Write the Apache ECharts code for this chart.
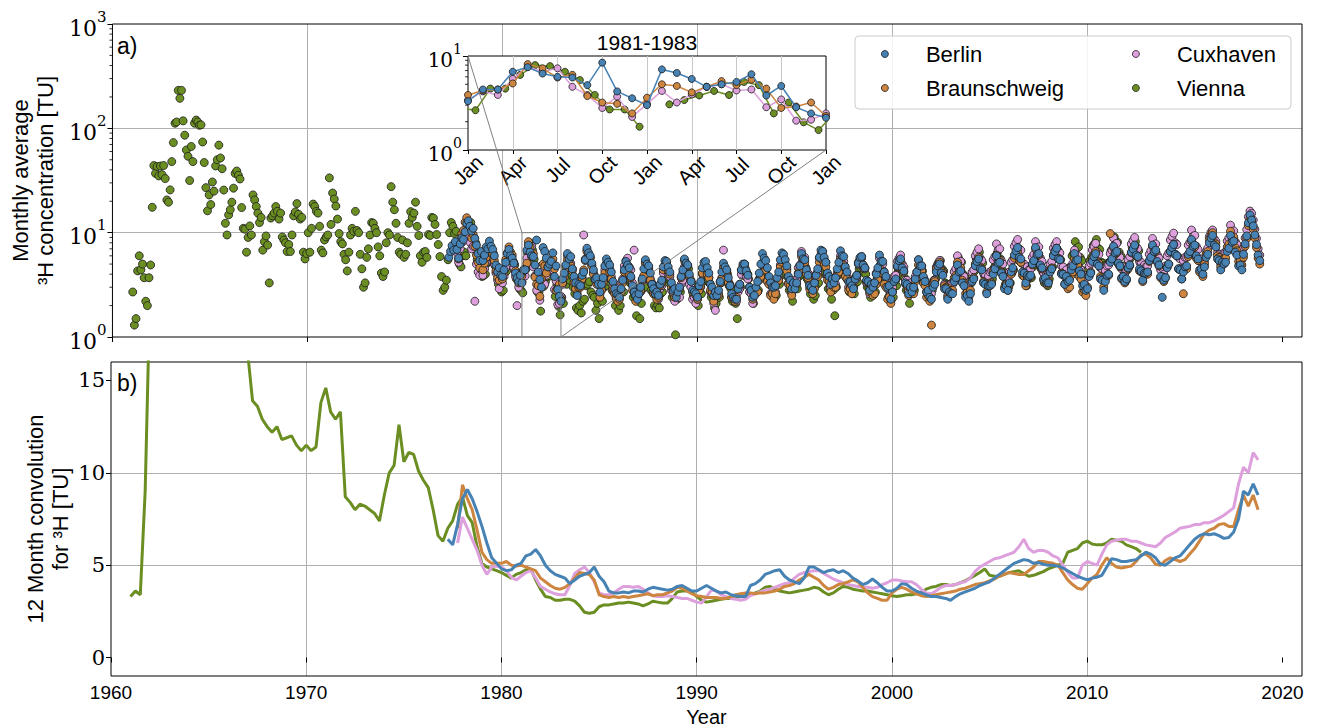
<!DOCTYPE html>
<html>
<head>
<meta charset="utf-8">
<title>Tritium in precipitation</title>
<script src="https://cdn.jsdelivr.net/npm/echarts@6.0.0/dist/echarts.min.js"></script>
<style>
  html, body { margin: 0; padding: 0; background: #fff; }
  #chart { width: 1318px; height: 728px; }
</style>
</head>
<body>
<div id="chart"></div>
<script>
// stations, legend order
const STATIONS = ['Berlin', 'Braunschweig', 'Cuxhaven', 'Vienna'];
const COLORS = { Berlin: '#4682b4', Braunschweig: '#cd853f', Cuxhaven: '#dda0dd', Vienna: '#6b8e23' };

const YEAR_TICKS = [1960, 1970, 1980, 1990, 2000, 2010, 2020];
const CONV_TICKS = [0, 5, 10, 15];
const INSET_MONTHS = ['Jan', 'Apr', 'Jul', 'Oct'];

// zoomed window shown in the inset
const INSET_FROM = 1981, INSET_TO = 1983, INSET_LOW = 1, INSET_HIGH = 10;

// monthly average 3H [TU], one row = one year (Jan..Dec)
const viennaStart = 1961;
const viennaMonthly = [
  [2.7,1.3,1.5,4.3,6.0,4.4,5.0,3.7,2.2,2.0,3.7,4.9],
  [17.5,44,37,43,35,43.5,36,44,33,20.6,19.6,25.7],
  [48,73,112,115,231,194,231,118,86,62,54,31.6],
  [67,48,112,120,115,107,108,74,47,27,16.2,23],
  [18.6,30.6,25,43.6,50,69,52,41,25.6,12.3,9.5,14.8],
  [16.6,19.6,26.7,37,39,35.5,32.7,17.4,11,10.8,6.5,9],
  [11.6,9.5,23,20.6,17.8,15.4,12.5,14,6.8,8.2,9.3,7.6],
  [3.3,13.8,14.5,15.4,17.8,16,13.5,15.4,9.1,8.5,8,6.6],
  [7.7,6.6,9.5,14.5,15.8,19,15,13.5,14,6.5,5.6,6.3],
  [10,6.5,11,18.8,17.8,16,15.4,11.5,6.8,6.4,8.5,9.1],
  [9.5,33.5,12,24,21,18,13.5,9.8,8.2,7.8,6.2,5.5],
  [4.3,6.5,9.5,11,10.3,16,10.5,10,6.2,4.5,3.0,3.3],
  [5.8,7,9.5,12.5,12.3,11,10,7.3,6,4.1,3.8,4.2],
  [8,10,9.5,27.6,19.6,16.6,12.3,9,6.5,6.2,8.5,5.8],
  [6.2,8,12.3,15.9,14,15.4,19.6,11.5,9.4,6,5.2,6.5],
  [6.6,5.8,9.6,9.4,14,13.8,12,9.6,7.7,5.9,3.8,2.8],
  [3.0,3.5,5.5,10,12.5,11.5,9.8,10.3,6.5,5.0,4.7,6.0],
  [6.5,6,9,11,12.5,11,9,8,5.5,4.2,4.5,3.8],
  [3.9,4.0,5.1,5.3,7.2,6.0,6.3,4.8,4.4,3.2,3.4,2.7],
  [2.8,4.1,4.3,6.2,6.0,6.1,5.1,4.9,3.6,3.7,2.9,2.8],
  [2.65,4.5,4.5,6.3,8.0,7.8,6.8,5.55,3.85,2.7,2.7,1.77],
  [null,3.06,3.4,3.8,4.25,3.85,5.3,4.9,2.45,3.2,1.97,1.63],
  [2.4,2.1,3.3,3.2,4.1,3.5,3.9,3.0,2.6,1.9,1.8,2.0],
  [1.7,2.2,2.3,3.1,3.2,3.4,2.7,2.5,2.4,1.8,2.1,1.5],
  [2.3,2.2,3.0,3.1,4.2,3.4,3.6,2.8,2.7,2.0,2.3,1.8],
  [2.0,2.7,2.7,3.8,3.9,4.3,3.3,3.3,2.4,2.5,1.6,2.2],
  [1.5,2.1,2.9,3.0,4.0,3.6,3.7,2.8,2.7,2.0,1.9,2.0],
  [1.9,2.6,2.7,3.6,3.8,4.1,3.3,3.4,2.4,2.5,1.05,2.3],
  [2.8,2.7,3.6,3.9,5.1,4.4,4.5,3.5,3.3,2.5,2.6,2.3],
  [2.0,2.7,2.6,3.6,3.7,4.1,3.4,3.3,2.4,2.5,1.9,2.1],
  [2.5,2.4,3.3,3.4,4.5,3.8,4.0,3.1,2.9,2.2,2.4,2.1],
  [1.5,2.9,3.0,3.9,4.2,4.5,3.7,3.6,2.7,2.7,2.1,2.6],
  [2.8,2.8,3.7,3.9,5.1,4.3,4.5,3.5,3.3,2.5,2.7,2.4],
  [2.5,3.2,3.2,4.3,4.4,4.8,3.9,3.8,2.8,2.8,2.2,2.9],
  [3.0,2.9,3.8,4.0,5.2,4.4,4.7,3.6,3.4,2.6,2.8,2.3],
  [2.5,3.2,3.3,4.4,4.5,4.9,4.0,3.9,2.9,2.9,2.3,2.8],
  [1.6,3.0,3.9,4.2,5.3,4.6,4.8,3.7,3.5,2.7,2.9,2.6],
  [2.6,3.3,3.4,4.5,4.6,5.0,4.1,4.0,3.0,3.0,2.4,2.9],
  [2.8,2.7,3.6,3.8,4.9,4.2,4.3,3.4,3.2,2.4,2.6,2.3],
  [2.4,3.1,3.1,4.2,4.3,4.7,3.8,3.7,2.8,2.8,2.1,2.6],
  [2.8,2.8,3.6,3.9,4.9,4.3,4.3,3.4,3.2,2.5,2.6,2.4],
  [2.8,3.5,3.6,4.8,5.0,5.4,4.5,4.3,3.3,3.2,2.6,3.1],
  [3.3,3.3,4.3,4.5,5.8,5.1,5.2,4.0,3.8,3.0,3.1,2.8],
  [3.3,4.1,4.3,5.7,6.0,6.5,5.3,5.1,3.9,3.8,3.1,3.7],
  [3.6,3.6,4.6,4.9,6.4,5.5,5.6,4.4,4.1,3.2,3.4,3.0],
  [3.3,4.1,4.4,5.6,6.0,6.4,5.3,5.1,3.9,3.8,3.1,3.6],
  [3.7,3.7,4.7,5.0,6.4,5.6,5.8,4.5,4.2,3.3,3.4,3.1],
  [3.6,4.4,4.7,6.0,6.4,6.9,5.7,5.5,4.2,4.1,3.3,3.9],
  [4.6,4.7,6.0,6.3,8.2,7.1,7.3,5.8,5.4,4.2,4.3,3.9],
  [4.4,5.4,5.8,7.5,7.9,8.6,7.1,6.9,5.2,5.1,4.1,4.9],
  [5.1,5.2,6.7,7.0,9.1,8.0,8.1,6.5,6.0,4.7,4.8,4.5],
  [4.4,5.3,5.7,7.3,7.8,8.2,6.9,6.7,5.1,4.9,4.1,4.6]
];

const berlinStart = 1977;
const berlinMonthly = [
  [null,null,null,5.8,6.6,7.5,6.8,8.2,6.9,5.7,7.8,8.9],
  [8.6,10.2,12.3,13.0,11.5,10.4,11.0,8.8,7.6,6.3,5.4,6.6],
  [5.4,6.1,7.3,7.0,8.3,7.4,6.9,6.0,4.9,4.2,4.6,3.9],
  [3.8,4.4,5.2,6.3,6.9,6.0,5.7,5.1,4.1,3.7,3.4,3.9],
  [3.3,4.4,4.4,6.8,7.6,6.5,6.0,5.9,4.9,8.5,4.2,3.55],
  [3.0,7.2,6.6,5.7,4.7,5.0,5.3,6.4,3.8,4.8,2.85,2.45],
  [2.2,3.6,4.1,4.9,6.3,5.6,5.9,4.5,3.8,3.3,2.5,3.2],
  [3.1,3.9,4.2,5.5,7.1,6.4,6.0,5.1,4.4,3.6,3.7,3.2],
  [2.7,3.2,3.7,4.8,5.6,5.2,4.9,4.2,3.4,2.9,2.6,2.5],
  [2.4,2.9,3.5,4.4,5.3,4.9,4.6,3.8,3.1,2.7,2.5,2.3],
  [2.6,3.0,3.6,4.5,5.5,5.0,4.8,4.1,3.2,2.9,2.6,2.7],
  [2.5,3.2,3.5,4.7,5.4,5.3,4.7,4.2,3.3,2.8,2.9,2.4],
  [2.7,3.0,3.8,4.4,5.6,5.1,4.9,4.0,3.4,2.8,2.7,2.6],
  [2.4,3.1,3.4,4.6,5.2,5.3,4.6,4.1,3.2,3.0,2.5,2.7],
  [2.5,2.8,3.4,4.2,5.1,4.7,4.4,3.7,3.1,2.6,2.4,2.3],
  [2.3,2.9,3.2,4.4,5.0,5.0,4.3,3.9,3.0,2.8,2.4,2.5],
  [3.0,3.4,4.1,5.0,6.3,5.7,5.4,4.6,3.8,3.3,3.0,3.0],
  [3.1,3.7,4.2,5.5,6.4,6.2,5.5,4.8,3.8,3.5,2.9,3.3],
  [2.9,3.3,4.0,4.8,6.3,5.6,5.5,4.4,3.9,3.1,3.0,2.8],
  [3.3,3.9,4.5,5.8,6.8,6.6,5.8,5.2,4.1,3.8,3.2,3.6],
  [3.3,3.7,4.5,5.2,6.7,6.0,5.9,4.7,4.2,3.4,3.4,3.1],
  [2.9,3.6,3.9,5.1,5.8,5.9,4.9,4.6,3.5,3.4,2.8,3.2],
  [3.0,3.3,4.0,4.6,6.1,5.3,5.3,4.2,3.8,3.0,3.1,2.3],
  [2.7,3.4,3.6,4.8,5.4,5.6,4.6,4.3,3.3,3.2,2.6,3.0],
  [2.7,3.0,3.6,4.2,5.5,4.8,4.8,3.8,3.4,2.7,2.8,2.4],
  [2.3,3.0,3.2,4.2,4.8,5.0,4.1,3.9,2.9,2.9,2.3,2.7],
  [2.6,2.6,3.4,3.7,4.9,4.2,4.3,3.3,3.1,2.4,2.5,2.2],
  [2.6,3.4,3.6,4.8,5.3,5.6,4.5,4.4,3.3,3.2,2.6,3.1],
  [3.1,3.2,4.0,4.5,6.0,5.1,5.2,4.1,3.8,2.9,3.1,2.8],
  [3.3,4.2,4.6,6.1,6.7,7.2,5.8,5.6,4.2,4.1,3.3,3.9],
  [3.8,3.9,5.0,5.4,7.2,6.2,6.3,4.9,4.6,3.6,3.7,3.3],
  [3.3,4.2,4.5,6.0,6.6,7.1,5.6,5.5,4.0,4.0,3.2,3.8],
  [3.4,3.5,4.4,4.8,6.3,5.4,5.5,4.3,4.0,3.1,3.2,2.8],
  [2.9,3.8,4.1,5.3,5.9,6.3,5.0,4.8,3.6,3.5,2.8,3.4],
  [3.9,4.0,5.2,5.6,7.4,6.4,6.6,5.1,4.8,3.7,3.8,3.4],
  [3.6,4.6,4.9,6.5,7.0,7.6,6.1,5.9,4.5,4.3,3.5,4.1],
  [4.1,4.2,5.4,5.8,7.6,6.6,6.8,5.3,4.9,3.8,2.4,3.5],
  [3.7,4.6,5.0,6.6,7.2,7.7,6.2,6.0,4.5,4.4,3.6,4.2],
  [4.7,4.8,6.2,6.6,8.6,7.4,7.6,6.0,5.6,4.4,4.5,4.0],
  [4.7,5.8,6.2,8.0,8.9,9.4,7.6,7.3,5.6,5.4,4.4,5.2],
  [5.0,5.2,6.6,7.1,9.4,8.1,8.3,6.5,6.1,4.8,4.9,4.4],
  [6.2,7.8,9.3,12.4,14.8,13.2,11.6,9.5,7.7,6.1,5.4,null]
];

const braunschweigStart = 1977;
const braunschweigMonthly = [
  [null,null,null,null,null,null,null,null,7.2,5.6,8.4,9.8],
  [10.5,12.6,13.9,12.1,10.8,8.9,9.6,7.4,6.1,5.2,4.6,5.4],
  [4.4,5.1,5.8,6.6,7.5,6.9,6.2,5.4,4.3,3.7,3.5,4.0],
  [3.6,4.3,5.5,6.4,7.3,6.5,6.1,5.2,4.3,3.8,3.3,4.1],
  [3.85,4.3,4.4,5.1,8.2,7.4,5.9,6.3,3.75,3.2,3.1,2.45],
  [3.6,5.0,4.8,4.1,4.7,5.4,4.9,5.6,4.5,2.8,2.9,3.2],
  [2.3,3.3,3.7,4.6,5.5,5.2,4.8,4.3,3.3,2.9,2.6,3.0],
  [3.0,3.6,4.4,5.4,6.6,6.1,5.7,4.8,4.0,3.5,3.2,3.5],
  [2.4,2.8,3.3,4.1,4.9,4.6,4.2,3.6,2.9,2.6,2.3,2.2],
  [2.3,2.7,3.3,4.2,4.6,4.8,4.0,3.7,2.8,2.7,2.2,2.4],
  [2.6,2.8,3.5,3.9,5.1,4.4,4.5,3.5,3.2,2.6,2.6,2.3],
  [2.4,3.1,3.3,4.4,4.9,5.2,4.3,4.0,3.0,2.9,2.4,2.7],
  [2.8,2.9,3.7,4.1,5.4,4.7,4.8,3.8,3.5,2.7,2.8,2.5],
  [2.3,2.8,3.1,4.1,4.6,4.8,4.0,3.7,2.8,2.7,2.2,2.5],
  [2.5,2.5,3.3,3.6,4.7,4.1,4.2,3.3,3.1,2.4,2.5,2.2],
  [2.4,3.0,3.2,4.4,4.8,5.0,4.2,4.0,3.0,2.9,2.3,2.7],
  [2.7,2.7,3.5,3.8,5.0,4.3,4.4,3.4,3.2,2.5,2.6,2.3],
  [2.6,3.3,3.5,4.7,5.2,5.5,4.5,4.3,3.2,3.1,2.5,3.0],
  [3.2,3.2,4.1,4.4,5.9,5.0,5.2,4.0,3.7,2.9,3.0,2.6],
  [2.9,3.7,3.8,5.2,5.6,6.0,4.9,4.7,3.5,3.4,2.7,3.3],
  [3.0,3.0,3.9,4.2,5.6,4.8,4.9,3.8,3.6,2.8,2.9,2.6],
  [3.0,3.7,3.9,5.2,5.6,5.9,4.8,4.6,3.4,3.4,2.7,3.2],
  [2.5,2.6,3.2,3.6,4.6,4.1,4.1,3.2,3.0,2.3,2.4,2.1],
  [2.7,3.4,3.5,4.7,5.1,5.4,4.4,4.2,3.2,3.1,2.5,3.0],
  [2.6,2.6,3.4,3.7,4.9,4.2,4.3,3.3,3.1,2.4,2.5,2.2],
  [1.3,3.2,3.4,4.5,4.9,5.2,4.3,4.1,3.1,3.0,2.4,2.9],
  [2.8,2.8,3.7,3.9,5.2,4.5,4.6,3.5,3.3,2.6,2.7,2.4],
  [2.8,3.5,3.7,5.0,5.4,5.8,4.7,4.5,3.4,3.3,2.7,3.2],
  [3.3,3.3,4.3,4.6,6.1,5.3,5.4,4.2,3.9,3.0,3.2,2.8],
  [3.2,4.0,4.3,5.7,6.2,6.6,5.4,5.2,3.9,3.8,3.1,3.6],
  [3.8,3.8,4.9,5.3,7.0,6.0,6.1,4.8,4.5,3.5,3.6,3.2],
  [3.4,4.3,4.6,6.1,6.7,7.1,5.7,5.5,4.1,4.0,3.2,3.8],
  [2.9,3.0,3.9,4.2,5.6,4.8,4.9,3.8,3.6,2.7,2.8,2.5],
  [3.0,3.9,4.2,5.6,6.2,6.6,5.3,5.1,3.8,3.7,3.0,3.6],
  [3.9,3.9,9.8,5.5,7.2,6.2,6.4,5.0,4.7,3.6,3.8,3.3],
  [3.5,4.5,4.8,6.4,6.9,7.4,6.0,5.8,4.3,4.2,3.4,4.0],
  [4.0,4.0,5.3,5.6,7.4,6.4,6.6,5.2,4.8,3.7,3.8,3.4],
  [3.7,4.7,5.0,6.6,7.2,7.7,6.2,6.0,4.5,4.4,3.6,2.6],
  [4.5,4.5,5.9,6.3,8.3,7.1,7.3,5.7,5.4,4.2,4.3,3.8],
  [5.0,6.2,6.6,8.6,9.5,10.0,8.1,7.8,6.0,5.8,4.7,5.5],
  [5.6,5.7,7.3,7.8,10.3,8.9,9.1,7.2,6.7,5.3,5.4,4.9],
  [5.8,7.4,8.8,11.7,13.6,12.4,10.9,8.9,7.2,5.7,5.0,null]
];

const cuxhavenStart = 1977;
const cuxhavenMonthly = [
  [null,null,null,null,null,null,null,null,6.4,5.2,7.0,8.1],
  [8.3,9.6,10.4,9.2,8.1,7.0,7.4,2.2,5.0,4.2,3.9,4.4],
  [3.9,4.5,5.2,5.9,6.8,6.2,5.8,5.0,4.1,3.5,2.9,3.6],
  [3.3,3.8,4.6,5.5,6.3,5.8,5.3,4.6,3.8,2.0,3.0,3.6],
  [3.4,4.2,3.85,5.7,7.7,6.8,7.4,4.7,3.85,2.8,3.7,2.25],
  [3.1,4.25,3.2,3.9,4.7,5.0,4.3,4.4,2.85,3.45,2.05,2.1],
  [2.45,3.2,3.9,4.8,6.0,5.4,5.1,4.5,3.6,3.2,2.8,3.4],
  [3.2,3.7,9.5,5.6,6.8,6.2,5.8,4.9,4.1,3.6,3.3,3.5],
  [2.6,2.9,3.5,4.4,5.1,4.9,4.5,3.8,3.1,2.7,2.4,2.3],
  [2.7,3.3,3.6,4.8,5.4,5.7,4.7,4.4,3.3,6.8,2.6,2.9],
  [2.6,2.7,3.4,3.8,5.2,4.5,4.6,3.6,3.3,2.6,2.7,2.4],
  [2.3,2.9,3.1,4.1,4.6,4.9,4.0,3.8,2.8,2.7,2.2,2.6],
  [2.4,2.4,3.2,3.5,4.7,4.0,4.1,3.2,3.0,2.3,2.4,2.1],
  [2.3,2.8,3.0,4.0,4.5,4.7,3.9,3.7,2.7,2.6,2.1,1.8],
  [2.6,2.6,3.4,3.7,6.8,4.2,4.3,3.4,3.2,2.4,2.5,2.2],
  [2.2,2.7,2.9,4.0,4.4,4.6,3.8,3.6,2.7,2.6,2.1,2.5],
  [2.7,2.7,3.6,3.9,5.1,4.4,4.5,3.5,3.3,2.6,2.6,2.4],
  [2.7,3.4,3.6,4.9,5.4,5.7,4.7,4.5,3.3,3.2,2.6,3.1],
  [3.5,3.5,4.6,4.9,6.6,5.6,5.8,4.5,4.1,3.2,3.4,2.9],
  [3.2,4.0,4.2,5.7,6.2,6.6,5.4,5.2,3.9,3.8,3.0,3.6],
  [3.2,3.2,4.1,4.5,6.0,5.1,5.3,4.1,3.8,3.0,3.1,2.8],
  [2.9,3.5,3.7,5.0,5.4,5.7,4.6,4.5,3.3,3.3,2.6,3.1],
  [3.1,3.1,4.1,4.3,5.7,4.9,5.0,3.9,3.7,2.9,3.0,2.6],
  [3.0,3.8,3.9,5.3,5.7,6.1,5.0,4.7,3.5,3.5,2.8,3.3],
  [2.9,2.9,3.8,4.2,5.5,4.7,4.8,3.7,3.5,2.7,2.8,2.5],
  [2.6,3.3,3.5,4.7,5.1,5.4,4.4,4.2,3.2,3.1,2.5,3.0],
  [3.2,3.2,4.2,4.5,6.0,5.2,5.3,4.0,3.8,3.0,3.1,2.7],
  [3.4,4.2,4.4,6.0,6.5,7.0,5.7,5.4,4.1,4.0,3.2,3.8],
  [4.2,4.3,5.5,5.9,7.8,6.8,7.0,5.4,5.0,3.9,4.1,3.6],
  [4.2,5.2,5.5,7.4,8.0,8.6,7.0,6.8,5.1,5.0,4.0,4.7],
  [4.4,4.5,5.8,6.2,8.2,7.1,7.3,5.7,5.3,4.1,4.3,3.8],
  [4.0,5.0,5.3,7.1,7.7,8.2,6.7,6.4,4.8,4.7,3.8,4.4],
  [3.6,3.7,4.7,5.1,6.8,5.9,6.0,4.6,4.4,3.4,3.5,3.1],
  [3.9,4.8,5.1,6.8,7.4,7.9,6.5,6.2,4.6,4.5,3.7,4.3],
  [4.8,4.9,6.3,6.8,8.9,7.7,7.9,6.2,5.8,4.5,4.7,4.1],
  [4.4,5.5,5.9,7.8,8.4,9.0,7.3,7.0,5.3,5.2,4.2,4.9],
  [4.7,4.8,6.2,6.7,8.8,7.6,7.8,6.1,5.7,4.4,4.6,4.0],
  [4.8,6.0,6.4,8.5,9.2,9.9,8.0,7.7,5.8,5.6,4.6,5.4],
  [5.8,5.8,7.6,8.1,10.6,9.2,9.4,7.4,6.9,5.4,5.6,4.9],
  [5.3,6.6,7.1,9.2,10.1,10.6,8.7,8.3,6.4,6.2,5.0,5.9],
  [6.4,6.5,8.3,8.9,11.8,10.2,10.4,8.2,7.7,6.0,6.2,5.5],
  [7.1,8.9,10.7,14.2,16.1,15.3,13.2,10.8,8.8,7.0,6.1,null]
];

// 12 month convolution [TU], sampled every quarter year
const CONV_STEP = 0.25;
const viennaConvStart = 1961;
const viennaConv = [
  3.3,3.6,3.4,9.0, 20,30,35,38, 50,80,110,115, 100,90,70,55, 45,38,33,30,
  26,23,21,18, 16.5,13.9,13.6,12.9, 12.5,12.2,12.5,11.8, 11.9,12.0,11.5,11.2,
  11.5,11.2,11.4,13.8, 14.6,13.3,12.9,13.3, 8.7,8.4,8.0,8.3, 8.2,8.0,7.8,7.4,
  8.8,10.0,10.4,12.6, 10.6,11.1,11.0,10.1, 9.6,9.2,8.0,6.6, 6.3,7.0,7.4,8.3,
  8.7,7.7,7.3,6.0, 5.1,4.9,4.8,4.7, 4.6,4.45,4.3,4.5, 4.6,4.75,4.8,4.2,
  3.7,3.3,3.25,3.1, 3.1,3.15,3.15,3.05, 2.8,2.45,2.4,2.45, 2.75,2.85,2.85,2.9,
  2.95,2.95,3.0,2.95, 2.9,2.8,2.9,3.05, 3.0,2.95,2.95,3.2, 3.55,3.6,3.6,3.55,
  3.3,3.1,3.0,3.05, 3.1,3.15,3.2,3.2, 3.25,3.3,3.35,3.4, 3.5,3.6,3.8,3.85,
  3.7,3.6,3.55,3.5, 3.55,3.6,3.65,3.7, 3.8,3.75,3.55,3.4, 3.5,3.7,3.85,3.8,
  3.7,3.65,3.6,3.6, 3.55,3.5,3.45,3.4, 3.35,3.3,3.35,3.4, 3.4,3.45,3.55,3.7,
  3.8,3.85,3.95,3.95, 3.9,3.95,4.05,4.15, 4.3,4.45,4.6,4.8, 4.45,4.4,4.4,4.5,
  4.6,4.65,4.7,4.55, 4.4,4.45,4.55,4.65, 4.8,4.9,5.0,5.1, 5.7,5.8,5.9,6.2,
  6.3,6.15,6.1,6.1, 6.2,6.4,6.35,6.3, 6.1,6.0,5.9,5.7
];
const berlinConvStart = 1977.25;
const berlinConv = [
  6.4,6.1,7.2, 8.6,9.1,8.6,7.9, 7.1,6.2,5.4,5.1, 4.8,4.7,4.75,5.0,
  5.1,5.5,5.6,5.85, 5.5,5.0,4.7,4.5, 4.4,4.3,4.0,4.2, 4.4,4.5,4.6,4.9,
  4.4,4.1,3.6,3.5, 3.5,3.55,3.5,3.6, 3.6,3.55,3.7,3.8, 3.75,3.7,3.65,3.7,
  3.85,3.9,3.75,3.6, 3.6,3.75,3.9,3.75, 3.6,3.5,3.55,3.4, 3.35,3.3,3.3,3.9,
  4.0,4.2,4.5,4.6, 4.7,4.75,4.4,4.2, 4.1,4.0,4.3,4.9, 4.9,4.75,4.6,4.7,
  4.75,4.6,4.7,4.55, 4.3,4.15,3.95,4.05, 4.25,4.05,3.8,3.6, 3.6,3.75,4.0,3.95,
  3.75,3.6,3.5,3.4, 3.3,3.3,3.25,3.2, 3.1,3.3,3.45,3.55, 3.65,3.75,3.9,4.0,
  4.1,4.3,4.5,4.7, 4.9,5.1,5.2,5.3, 5.25,5.1,5.15,5.05, 5.0,5.0,4.95,4.85,
  4.7,4.55,4.4,4.3, 4.2,4.3,4.35,4.45, 4.9,5.35,5.3,5.2, 5.2,5.25,5.3,5.5,
  5.7,5.6,5.4,5.05, 5.0,5.2,5.4,5.5, 5.8,6.1,6.4,6.6, 6.7,6.65,6.7,6.6,
  6.45,6.5,6.8,7.5, 9.0,8.8,9.4,8.8
];
const braunschweigConvStart = 1977.75;
const braunschweigConv = [
  7.0, 9.35,8.6,8.0,6.9, 5.7,5.3,5.1,5.1, 5.1,5.2,5.0,4.95, 5.0,4.9,4.8,4.7,
  4.3,4.1,3.9,3.75, 3.7,3.8,4.0,4.3, 4.6,4.55,4.5,4.2, 3.4,3.3,3.25,3.3,
  3.25,3.3,3.25,3.3, 3.35,3.4,3.45,3.35, 3.4,3.4,3.5,3.6, 3.8,3.75,3.6,3.45,
  3.35,3.3,3.25,3.25, 3.25,3.2,3.2,3.3, 3.4,3.45,3.5,3.5, 3.45,3.5,3.5,3.55,
  3.6,3.7,3.85,3.9, 4.0,4.2,4.35,4.5, 4.35,4.2,3.9,3.7, 3.8,3.95,4.0,4.1,
  4.2,4.1,3.8,3.5, 3.3,3.2,3.1,3.1, 3.5,3.7,3.8,3.7, 3.55,3.45,3.35,3.3,
  3.35,3.4,3.45,3.5, 3.55,3.6,3.7,3.75, 3.85,3.95,4.0,4.05, 4.15,4.25,4.4,4.5,
  4.6,4.55,4.5,4.5, 4.7,4.9,5.2,5.2, 5.15,5.1,5.0,4.6, 4.2,3.95,3.75,3.7,
  4.0,4.3,4.5,5.0, 5.4,5.1,4.9,4.85, 4.9,4.95,5.2,5.55, 5.6,5.4,5.05,5.0,
  5.25,5.4,5.3,5.2, 5.3,5.6,5.9,6.3, 6.7,6.9,7.0,7.2, 7.25,7.1,7.1,8.0,
  8.8,8.2,8.8,8.0
];
const cuxhavenConvStart = 1977.75;
const cuxhavenConv = [
  6.2, 7.6,7.0,6.4,5.8, 5.0,4.5,4.9,4.95, 4.9,4.7,4.35,4.2, 4.4,4.6,4.7,4.3,
  3.85,3.7,3.55,3.45, 3.4,3.4,3.9,4.55, 4.75,4.9,4.6,4.1, 3.5,3.4,3.4,3.5,
  3.7,3.85,3.85,3.8, 3.85,3.7,3.5,3.35, 3.3,3.3,3.35,3.3, 3.25,3.2,3.2,3.1,
  3.0,2.95,3.3,3.65, 3.6,3.4,3.3,3.2, 3.15,3.1,3.15,3.35, 3.45,3.55,3.65,3.7,
  3.8,3.9,4.0,4.05, 4.3,4.5,4.6,4.65, 4.7,4.7,4.55,4.4, 4.25,4.15,4.05,3.95,
  3.9,3.85,3.8,3.8, 3.75,3.8,3.95,4.05, 4.2,4.2,4.15,4.1, 4.1,3.95,3.7,3.5,
  3.45,3.6,3.8,3.9, 3.9,3.95,4.05,4.1, 4.3,4.65,4.9,5.05, 5.2,5.35,5.4,5.5,
  5.6,5.7,6.0,6.4, 5.9,5.7,5.8,5.8, 5.7,5.5,5.4,5.0, 4.6,4.3,4.3,5.0,
  5.2,5.1,5.0,5.6, 6.1,6.3,6.35,6.4, 6.4,6.3,6.3,6.2, 6.1,6.05,6.0,6.2,
  6.5,6.65,6.8,7.0, 7.05,7.1,7.2,7.2, 7.3,7.3,7.4,7.55, 7.7,7.9,8.1,9.4,
  10.3,10.0,11.1,10.7
];

const SERIF = "'DejaVu Serif', 'Liberation Serif', serif";
const SANS = "'Liberation Sans', 'DejaVu Sans', sans-serif";
const GRID_COLOR = '#b0b0b0';

// month index -> decimal year (Vienna samples sit mid month)
function monthly(start, rows, offset) {
  const pts = [];
  rows.forEach((row, i) => {
    row.forEach((v, m) => {
      pts.push([start + i + (m + offset) / 12, v]);
    });
  });
  return pts;
}
function conv(start, vals) {
  return vals.map((v, i) => [start + i * CONV_STEP, v]);
}

const monthlyData = {
  Berlin: monthly(berlinStart, berlinMonthly, 0),
  Braunschweig: monthly(braunschweigStart, braunschweigMonthly, 0),
  Cuxhaven: monthly(cuxhavenStart, cuxhavenMonthly, 0),
  Vienna: monthly(viennaStart, viennaMonthly, 0.5)
};
const convData = {
  Berlin: conv(berlinConvStart, berlinConv),
  Braunschweig: conv(braunschweigConvStart, braunschweigConv),
  Cuxhaven: conv(cuxhavenConvStart, cuxhavenConv),
  Vienna: conv(viennaConvStart, viennaConv)
};

// drawn bottom to top
const drawOrder = ['Vienna', 'Cuxhaven', 'Braunschweig', 'Berlin'];

function powLabel(v) {
  return '{b|10}{e|' + Math.round(Math.log10(v)) + '}';
}
function powRich(size) {
  return {
    b: { fontFamily: SERIF, fontSize: size, color: '#000', lineHeight: size + 8, verticalAlign: 'bottom' },
    e: { fontFamily: SERIF, fontSize: Math.round(size * 0.68), color: '#000', lineHeight: size + 8, verticalAlign: 'top' }
  };
}
function minorValues(lo, hi) {
  const out = [];
  for (let d = lo; d < hi; d++) for (let k = 2; k <= 9; k++) out.push(k * Math.pow(10, d));
  return out;
}
function minorTicks(xi, yi, xAt, vals, z) {
  return {
    type: 'custom', xAxisIndex: xi, yAxisIndex: yi, silent: true, z: z,
    data: vals.map(v => [xAt, v]),
    renderItem: function (params, api) {
      const p = api.coord([api.value(0), api.value(1)]);
      return { type: 'line', shape: { x1: p[0] - 3, y1: p[1], x2: p[0], y2: p[1] },
               style: { stroke: '#000', lineWidth: 0.8 } };
    }
  };
}

const series = [];
// top panel: monthly scatter
drawOrder.forEach((name, k) => {
  series.push({
    name: name, type: 'scatter', xAxisIndex: 0, yAxisIndex: 0,
    data: monthlyData[name].filter(p => p[1] != null),
    symbol: 'circle', symbolSize: 8, z: 2 + k,
    itemStyle: { color: COLORS[name], borderColor: '#1a1a1a', borderWidth: 0.8, opacity: 1 },
    emphasis: { disabled: true }
  });
});
// inset: same data as lines with markers
drawOrder.forEach((name, k) => {
  series.push({
    name: name, type: 'line', xAxisIndex: 2, yAxisIndex: 2,
    data: monthlyData[name].filter(p => p[0] > INSET_FROM - 0.2 && p[0] < INSET_TO + 0.2)
                           .map(p => [p[0], p[1] == null ? '-' : p[1]]),
    symbol: 'circle', symbolSize: 7, showSymbol: true, clip: true, z: 6 + k,
    lineStyle: { color: COLORS[name], width: 1.5 },
    itemStyle: { color: COLORS[name], borderColor: '#1a1a1a', borderWidth: 0.8 },
    emphasis: { disabled: true }
  });
});
// bottom panel: 12 month convolution
drawOrder.forEach((name, k) => {
  series.push({
    name: name, type: 'line', xAxisIndex: 1, yAxisIndex: 1,
    data: convData[name], showSymbol: false, symbol: 'none', clip: true, z: 2 + k,
    lineStyle: { color: COLORS[name], width: 3 },
    emphasis: { disabled: true }
  });
});
// zoom window marker on the top panel
series.push({
  type: 'line', xAxisIndex: 0, yAxisIndex: 0, silent: true, symbol: 'none', z: 7, clip: false,
  data: [[INSET_FROM, INSET_LOW], [INSET_FROM, INSET_HIGH], [INSET_TO, INSET_HIGH],
         [INSET_TO, INSET_LOW], [INSET_FROM, INSET_LOW]],
  lineStyle: { color: '#808080', width: 1 }
});
series.push(minorTicks(0, 0, 1960, minorValues(0, 3), 3));
series.push(minorTicks(2, 2, INSET_FROM, minorValues(0, 1), 8));

const axisTick = { show: true, length: 5, lineStyle: { color: '#000', width: 1 } };
const yearLabel = v => String(v);

const chart = echarts.init(document.getElementById('chart'), null, { renderer: 'svg' });

chart.setOption({
  animation: false,
  backgroundColor: '#fff',
  grid: [
    { left: 111, top: 24, width: 1191, height: 313, show: true, z: 1,
      borderColor: '#000', borderWidth: 1, backgroundColor: 'transparent' },
    { left: 111, top: 362, width: 1191, height: 315, show: true, z: 1,
      borderColor: '#000', borderWidth: 1, backgroundColor: 'transparent' },
    { left: 468, top: 56, width: 358, height: 94, show: true, z: 4,
      borderColor: '#000', borderWidth: 1, backgroundColor: '#fff' }
  ],
  xAxis: [
    { gridIndex: 0, type: 'value', min: 1960, max: 2021,
      axisLine: { show: false },
      axisTick: Object.assign({ customValues: YEAR_TICKS }, axisTick),
      axisLabel: { show: false },
      splitLine: { show: true, showMinLine: false, showMaxLine: false, lineStyle: { color: GRID_COLOR, width: 1 } } },
    { gridIndex: 1, type: 'value', min: 1960, max: 2021,
      axisLine: { show: false },
      axisTick: Object.assign({ customValues: YEAR_TICKS }, axisTick),
      axisLabel: { customValues: YEAR_TICKS, formatter: yearLabel, fontFamily: SANS, fontSize: 19,
                   color: '#000', margin: 7 },
      splitLine: { show: true, showMinLine: false, showMaxLine: false, lineStyle: { color: GRID_COLOR, width: 1 } },
      name: 'Year', nameLocation: 'middle', nameGap: 31,
      nameTextStyle: { fontFamily: SANS, fontSize: 20, color: '#000' } },
    { gridIndex: 2, type: 'value', min: INSET_FROM, max: INSET_TO, interval: 0.25, z: 5,
      axisLine: { show: false },
      axisTick: { show: true, length: 4, lineStyle: { color: '#000', width: 1 } },
      axisLabel: { fontFamily: SANS, fontSize: 20, color: '#000', rotate: 45, align: 'center',
                   verticalAlign: 'middle', margin: 20,
                   formatter: v => INSET_MONTHS[Math.round((v - Math.floor(v + 1e-6)) * 4) % 4] },
      splitLine: { show: true, showMinLine: false, showMaxLine: false, lineStyle: { color: '#c8c8c8', width: 1 } } }
  ],
  yAxis: [
    { gridIndex: 0, type: 'log', logBase: 10, min: 1, max: 1000,
      axisLine: { show: false }, axisTick: axisTick,
      axisLabel: { formatter: powLabel, rich: powRich(22), margin: 6 },
      splitLine: { show: true, showMinLine: false, showMaxLine: false, lineStyle: { color: GRID_COLOR, width: 1 } },
      name: 'Monthly average\n³H concentration [TU]', nameLocation: 'middle', nameRotate: 90, nameGap: 50,
      nameTextStyle: { fontFamily: SANS, fontSize: 22, lineHeight: 25, color: '#000' } },
    { gridIndex: 1, type: 'value', min: -1, max: 16,
      axisLine: { show: false },
      axisTick: Object.assign({ customValues: CONV_TICKS }, axisTick),
      axisLabel: { customValues: CONV_TICKS, fontFamily: SERIF, fontSize: 21, color: '#000', margin: 6 },
      splitLine: { show: true, showMinLine: false, showMaxLine: false, lineStyle: { color: GRID_COLOR, width: 1 } },
      name: '12 Month convolution\nfor ³H [TU]', nameLocation: 'middle', nameRotate: 90, nameGap: 38,
      nameMoveOverlap: false,
      nameTextStyle: { fontFamily: SANS, fontSize: 22, lineHeight: 25, color: '#000' } },
    { gridIndex: 2, type: 'log', logBase: 10, min: INSET_LOW, max: INSET_HIGH, z: 5,
      axisLine: { show: false }, axisTick: axisTick,
      axisLabel: { formatter: powLabel, rich: powRich(20), margin: 6 },
      splitLine: { show: false } }
  ],
  legend: [
    { data: [{ name: 'Berlin', icon: 'circle' }, { name: 'Braunschweig', icon: 'circle' }],
      orient: 'vertical', left: 881, top: 42, padding: 0, itemWidth: 72, itemHeight: 7, itemGap: 10,
      selectedMode: false, z: 6,
      itemStyle: { borderColor: '#1a1a1a', borderWidth: 0.8 },
      textStyle: { fontFamily: SANS, fontSize: 22, lineHeight: 24, color: '#000' } },
    { data: [{ name: 'Cuxhaven', icon: 'circle' }, { name: 'Vienna', icon: 'circle' }],
      orient: 'vertical', left: 1132, top: 42, padding: 0, itemWidth: 72, itemHeight: 7, itemGap: 10,
      selectedMode: false, z: 6,
      itemStyle: { borderColor: '#1a1a1a', borderWidth: 0.8 },
      textStyle: { fontFamily: SANS, fontSize: 22, lineHeight: 24, color: '#000' } }
  ],
  graphic: [
    { id: 'legendBox', type: 'rect', z: 5, silent: true,
      shape: { x: 855, y: 36, width: 436, height: 73, r: 4 },
      style: { fill: 'rgba(255,255,255,0.85)', stroke: '#cccccc', lineWidth: 1 } },
    { id: 'panelA', type: 'text', x: 117, y: 46, z: 6, silent: true,
      style: { text: 'a)', fontFamily: SANS, fontSize: 23, fill: '#000', textVerticalAlign: 'middle' } },
    { id: 'panelB', type: 'text', x: 117, y: 383, z: 6, silent: true,
      style: { text: 'b)', fontFamily: SANS, fontSize: 23, fill: '#000', textVerticalAlign: 'middle' } },
    { id: 'insetTitle', type: 'text', x: 647, y: 42, z: 6, silent: true,
      style: { text: '1981-1983', fontFamily: SANS, fontSize: 21, fill: '#000',
               textAlign: 'center', textVerticalAlign: 'middle' } }
  ],
  series: series
});

// connector lines between zoom window and inset
const boxTL = chart.convertToPixel({ gridIndex: 0 }, [INSET_FROM, INSET_HIGH]);
const boxBR = chart.convertToPixel({ gridIndex: 0 }, [INSET_TO, INSET_LOW]);
const insTL = chart.convertToPixel({ gridIndex: 2 }, [INSET_FROM, INSET_HIGH]);
const insBR = chart.convertToPixel({ gridIndex: 2 }, [INSET_TO, INSET_LOW]);
chart.setOption({
  graphic: [
    { id: 'linkA', type: 'line', z: 10, silent: true,
      shape: { x1: insTL[0], y1: insTL[1], x2: boxTL[0], y2: boxTL[1] },
      style: { stroke: '#808080', lineWidth: 1 } },
    { id: 'linkB', type: 'line', z: 10, silent: true,
      shape: { x1: insBR[0], y1: insBR[1], x2: boxBR[0], y2: boxBR[1] },
      style: { stroke: '#808080', lineWidth: 1 } }
  ]
});
</script>
</body>
</html>
